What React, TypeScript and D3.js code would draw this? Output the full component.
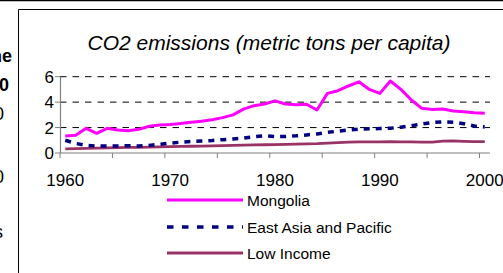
import React from "react";
import * as d3 from "d3";

// years 1960..2000
const years: number[] = [
  1960, 1961, 1962, 1963, 1964, 1965, 1966, 1967, 1968, 1969,
  1970, 1971, 1972, 1973, 1974, 1975, 1976, 1977, 1978, 1979,
  1980, 1981, 1982, 1983, 1984, 1985, 1986, 1987, 1988, 1989,
  1990, 1991, 1992, 1993, 1994, 1995, 1996, 1997, 1998, 1999, 2000,
];

const mongolia: number[] = [
  1.34, 1.39, 1.94, 1.55, 1.94, 1.81, 1.75, 1.86, 2.1, 2.2,
  2.25, 2.32, 2.42, 2.5, 2.62, 2.78, 3.0, 3.45, 3.72, 3.85,
  4.1, 3.85, 3.8, 3.83, 3.38, 4.69, 4.9, 5.27, 5.6, 5.0,
  4.69, 5.66, 5.0, 4.17, 3.51, 3.43, 3.46, 3.3, 3.25, 3.17, 3.12,
];

const eastAsia: number[] = [
  1.0, 0.75, 0.6, 0.55, 0.55, 0.55, 0.58, 0.55, 0.6, 0.68,
  0.78, 0.85, 0.9, 0.95, 0.98, 1.05, 1.1, 1.18, 1.28, 1.35,
  1.3, 1.3, 1.35, 1.42, 1.5, 1.62, 1.72, 1.8, 1.87, 1.9,
  1.92, 1.95, 2.03, 2.15, 2.28, 2.4, 2.45, 2.42, 2.3, 2.12, 2.05,
];

const lowIncome: number[] = [
  0.33, 0.35, 0.37, 0.38, 0.4, 0.42, 0.44, 0.45, 0.46, 0.48,
  0.5, 0.52, 0.53, 0.54, 0.56, 0.58, 0.6, 0.62, 0.64, 0.65,
  0.66, 0.68, 0.7, 0.72, 0.74, 0.78, 0.82, 0.85, 0.87, 0.88,
  0.88, 0.89, 0.88, 0.87, 0.86, 0.86, 0.93, 0.95, 0.92, 0.9, 0.9,
];

const yTicks: number[] = [0, 2, 4, 6];
const xLabels: number[] = [1960, 1970, 1980, 1990, 2000];
const seriesNames: string[] = ["Mongolia", "East Asia and Pacific", "Low Income"];
const seriesColors: string[] = ["#ff00ff", "#000080", "#993366"];
// text of a neighbouring table, cut off at the left edge
const leftFragments: string[] = ["he", "0", "0", "0", "s"];

const FONT = "'Liberation Sans', Arial, sans-serif";

const App = () => {
  const width = 503;
  const height = 273;

  // category axis, points sit between tick marks
  const xBand = d3.scaleBand<number>().domain(years).range([60, 490]).padding(0);
  const xc = (yr: number) => (xBand(yr) as number) + xBand.bandwidth() / 2;
  const y = d3.scaleLinear().domain([0, 6]).range([153, 76.7]);

  const line = d3
    .line<number>()
    .x((_, i) => xc(years[i]))
    .y((d) => y(d));

  const allSeries = [mongolia, eastAsia, lowIncome];
  const dashes = [undefined, "6,6", undefined];
  const widths = [3, 3.5, 2.8];

  const tickYears = years.filter((_, i) => i % 5 === 0);

  const legendY = [200, 227, 253];
  const fragY = [62, 91, 120, 183, 238];
  const fragX = [12, 9, 4, 4, 3];

  return (
    <div style={{ position: "fixed", left: 0, top: 0 }}>
      <svg width={width} height={height} style={{ display: "block", background: "#fff" }}>
        {/* frame */}
        <line x1={0} x2={width} y1={0.5} y2={0.5} stroke="#000" strokeWidth={1.5} />
        <line x1={18.5} x2={width} y1={9.5} y2={9.5} stroke="#000" strokeWidth={1} />
        <line x1={18.5} x2={18.5} y1={9.5} y2={height} stroke="#000" strokeWidth={1} />

        {/* cut-off text from the left */}
        {leftFragments.map((t, i) => (
          <text key={i} x={fragX[i]} y={fragY[i]} textAnchor="end" fontFamily={FONT} fontSize={18} fontWeight={i < 2 ? "bold" : "normal"} fill="#000">
            {t}
          </text>
        ))}

        {/* title */}
        <text x={269} y={50} textAnchor="middle" fontFamily={FONT} fontSize={21} fontStyle="italic" fill="#000">
          CO2 emissions (metric tons per capita)
        </text>

        {/* grid */}
        {yTicks.filter((t) => t > 0).map((t) => (
          <line key={t} x1={60} x2={490} y1={y(t)} y2={y(t)} stroke="#000" strokeWidth={1} strokeDasharray="6.5,6" />
        ))}

        {/* y axis */}
        <line x1={60.5} x2={60.5} y1={y(6)} y2={y(0)} stroke="#808080" strokeWidth={1.2} />
        {yTicks.map((t) => (
          <g key={t}>
            <line x1={55} x2={60} y1={y(t)} y2={y(t)} stroke="#808080" strokeWidth={1} />
            <text x={54} y={y(t)} dy="0.36em" textAnchor="end" fontFamily={FONT} fontSize={17} fill="#000">
              {t}
            </text>
          </g>
        ))}

        {/* x axis */}
        <line x1={60} x2={490} y1={y(0)} y2={y(0)} stroke="#808080" strokeWidth={1.2} />
        {tickYears.map((yr) => (
          <line key={yr} x1={(xBand(yr) as number)} x2={(xBand(yr) as number)} y1={y(0)} y2={y(0) + 5} stroke="#808080" strokeWidth={1} />
        ))}
        {xLabels.map((yr) => (
          <text key={yr} x={xc(yr)} y={186} textAnchor="middle" fontFamily={FONT} fontSize={17} fill="#000">
            {yr}
          </text>
        ))}

        {/* series */}
        {allSeries.map((s, i) => (
          <path
            key={seriesNames[i]}
            d={line(s) as string}
            fill="none"
            stroke={seriesColors[i]}
            strokeWidth={widths[i]}
            strokeDasharray={dashes[i]}
            strokeLinejoin="round"
          />
        )).reverse()}

        {/* legend */}
        {seriesNames.map((n, i) => (
          <g key={n}>
            <line x1={167} x2={243} y1={legendY[i]} y2={legendY[i]} stroke={seriesColors[i]} strokeWidth={widths[i]} strokeDasharray={i === 1 ? "6.5,8.5" : undefined} />
            <text x={247} y={legendY[i]} dy="0.36em" fontFamily={FONT} fontSize={15.5} fill="#000">
              {n}
            </text>
          </g>
        ))}
      </svg>
    </div>
  );
};

export default App;
